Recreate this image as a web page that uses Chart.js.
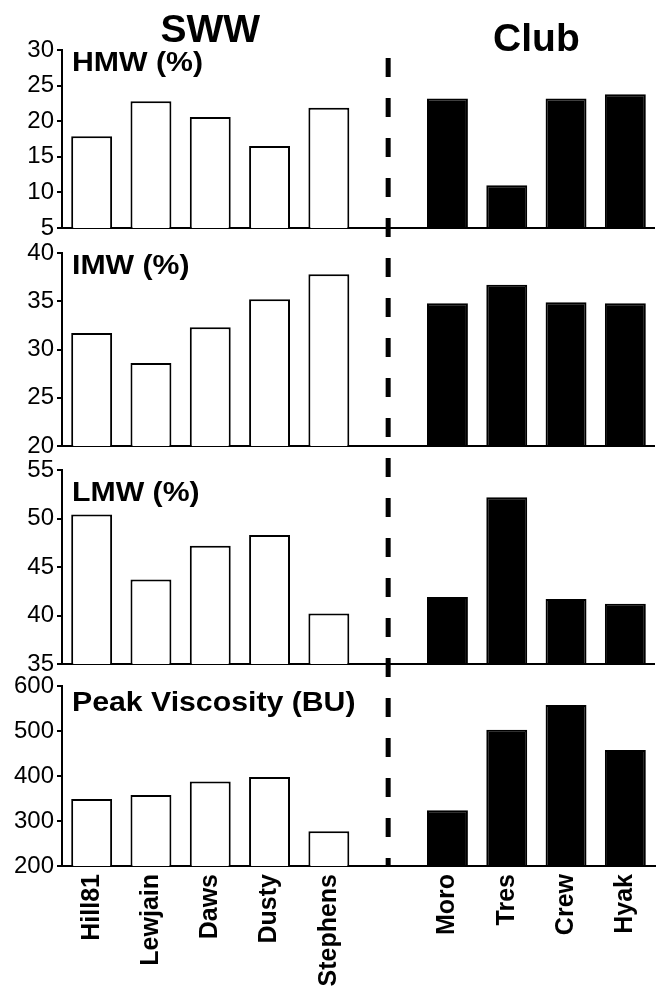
<!DOCTYPE html>
<html><head><meta charset="utf-8">
<script src="https://cdn.jsdelivr.net/npm/chart.js@4"></script>
<style>html,body{margin:0;padding:0;background:#fff;}canvas{display:block;}</style>
</head><body>
<canvas id="c" width="657" height="994"></canvas>
<script>
// ---- data ----
const categories = ['Hill81', 'Lewjain', 'Daws', 'Dusty', 'Stephens', '', 'Moro', 'Tres', 'Crew', 'Hyak'];
const groups     = ['SWW', 'SWW', 'SWW', 'SWW', 'SWW', '', 'Club', 'Club', 'Club', 'Club'];
const groupTitles = ['SWW', 'Club'];
const hmwValues  = [17.9, 22.8, 20.6, 16.5, 21.9, null, 23.2, 11.0, 23.2, 23.8];
const imwValues  = [31.7, 28.6, 32.3, 35.2, 37.8, null, 34.8, 36.7, 34.9, 34.8];
const lmwValues  = [50.4, 43.7, 47.2, 48.3, 40.2, null, 41.9, 52.2, 41.7, 41.2];
const peakValues = [349, 358, 388, 398, 277, null, 324, 503, 558, 458];
const panelLabels = ['HMW (%)', 'IMW (%)', 'LMW (%)', 'Peak Viscosity (BU)'];
const hmwTicks  = [5, 10, 15, 20, 25, 30];
const imwTicks  = [20, 25, 30, 35, 40];
const lmwTicks  = [35, 40, 45, 50, 55];
const peakTicks = [200, 300, 400, 500, 600];

// ---- styles ----
const FONT = "'Liberation Sans', Arial, Helvetica, sans-serif";
const groupFill = { SWW: '#ffffff', Club: '#000000', '': '#ffffff' };
const fills = groups.map(g => groupFill[g]);

const panels = [
  { id: 'yHMW',  values: hmwValues,  ticks: hmwTicks,  label: panelLabels[0], weight: 178, labelDy: 21 },
  { id: 'yIMW',  values: imwValues,  ticks: imwTicks,  label: panelLabels[1], weight: 193, labelDy: 21 },
  { id: 'yLMW',  values: lmwValues,  ticks: lmwTicks,  label: panelLabels[2], weight: 194, labelDy: 31 },
  { id: 'yPeak', values: peakValues, ticks: peakTicks, label: panelLabels[3], weight: 180, labelDy: 25 }
];
const gapWeights = [25, 24, 22];

const scales = {
  x: {
    type: 'category',
    offset: true,
    grid: { display: false },
    border: { display: true, color: '#000', width: 2 },
    ticks: {
      color: '#000', font: { family: FONT, size: 25, weight: 'bold' },
      minRotation: 90, maxRotation: 90, autoSkip: false, padding: 0
    },
    afterFit(s) { s.height = 128; }
  }
};
let order = 100;
panels.forEach((p, i) => {
  const step = p.ticks[1] - p.ticks[0];
  scales[p.id] = {
    type: 'linear', position: 'left', stack: 'panels', stackWeight: p.weight, weight: order--,
    min: p.ticks[0], max: p.ticks[p.ticks.length - 1],
    border: { display: true, color: '#000', width: 2 },
    grid: {
      drawOnChartArea: true, drawTicks: true, tickLength: 5, tickWidth: 2, tickColor: '#000',
      lineWidth: 2,
      color: ctx => (ctx.index === 0 ? '#000' : 'rgba(0,0,0,0)')
    },
    ticks: {
      stepSize: step, autoSkip: false, padding: 3, color: '#000',
      font: { family: FONT, size: 24 }
    },
    afterFit(s) { s.width = 62; }
  };
  if (i < gapWeights.length) {
    scales['gap' + i] = {
      type: 'linear', position: 'left', stack: 'panels', stackWeight: gapWeights[i], weight: order--,
      border: { display: false }, grid: { display: false }, ticks: { display: false },
      afterFit(s) { s.width = 62; }
    };
  }
});

const datasets = panels.map(p => ({
  label: p.label,
  data: p.values,
  yAxisID: p.id,
  grouped: false,
  backgroundColor: fills,
  borderColor: '#000',
  borderWidth: 2,
  barPercentage: 0.69,
  categoryPercentage: 1.0
}));

const overlay = {
  id: 'overlay',
  afterDatasetsDraw(chart) {
    const { ctx, chartArea } = chart;
    const xs = chart.scales.x;
    // dashed separator at the empty category
    const gi = categories.indexOf('');
    const xp = xs.getPixelForValue(gi);
    ctx.save();
    ctx.strokeStyle = '#000';
    ctx.lineWidth = 5;
    ctx.setLineDash([19, 21]);
    ctx.beginPath();
    ctx.moveTo(xp, chartArea.top + 8);
    ctx.lineTo(xp, chartArea.bottom);
    ctx.stroke();
    ctx.restore();

    // group titles
    ctx.save();
    ctx.fillStyle = '#000';
    ctx.textAlign = 'center';
    ctx.textBaseline = 'alphabetic';
    ctx.font = "bold 39px " + FONT;
    const titleDy = { SWW: -8, Club: 1 };
    groupTitles.forEach(g => {
      const idx = groups.map((v, i) => (v === g ? i : -1)).filter(i => i >= 0);
      const cx = (xs.getPixelForValue(idx[0]) + xs.getPixelForValue(idx[idx.length - 1])) / 2;
      ctx.fillText(g, cx, chartArea.top + titleDy[g]);
    });
    ctx.restore();

    // panel labels
    panels.forEach(p => {
      const s = chart.scales[p.id];
      ctx.save();
      ctx.fillStyle = '#000';
      ctx.textAlign = 'left';
      ctx.textBaseline = 'alphabetic';
      ctx.font = "bold 27px " + FONT;
      ctx.translate(chartArea.left + 10, s.top + p.labelDy);
      ctx.scale(1.12, 1);
      ctx.fillText(p.label, 0, 0);
      ctx.restore();
    });
  }
};

new Chart(document.getElementById('c'), {
  type: 'bar',
  data: { labels: categories, datasets },
  options: {
    responsive: false,
    animation: false,
    devicePixelRatio: 1,
    layout: { padding: { top: 50, right: 2, left: 0, bottom: 0 } },
    plugins: { legend: { display: false }, tooltip: { enabled: false }, title: { display: false } },
    scales
  },
  plugins: [overlay]
});
</script>
</body></html>
